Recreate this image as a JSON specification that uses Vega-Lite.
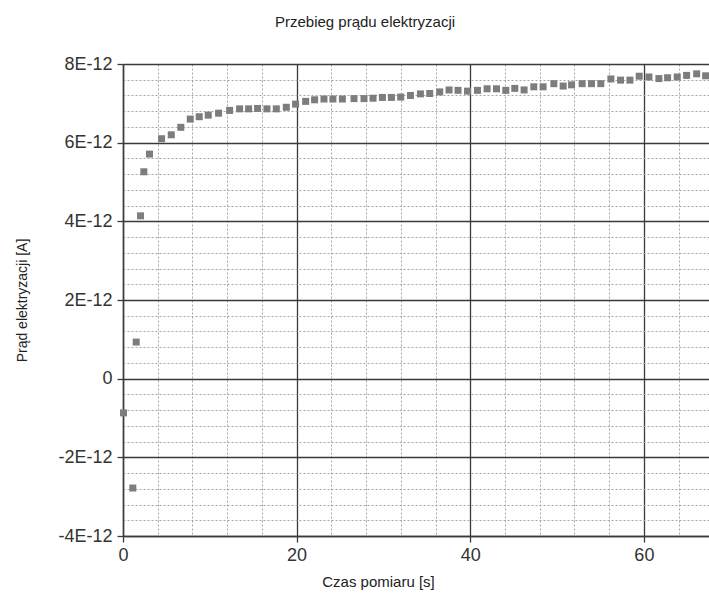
{
  "$schema": "https://vega.github.io/schema/vega-lite/v6.json",
  "width": 586,
  "height": 472,
  "autosize": "none",
  "padding": {"left": 123, "top": 64, "right": 0, "bottom": 62},
  "background": "white",
  "title": {"text": "Przebieg prądu elektryzacji", "font": "Liberation Sans", "fontSize": 15, "fontWeight": "normal", "color": "#222", "anchor": "middle", "dx": -51, "offset": 13, "baseline": "alphabetic"},
  "config": {"view": {"stroke": null}},
  "data": {"values": [
    {"t": 0.06, "i": -0.87e-12},
    {"t": 1.13, "i": -2.78e-12},
    {"t": 1.52, "i": 0.93e-12},
    {"t": 2.02, "i": 4.14e-12},
    {"t": 2.40, "i": 5.26e-12},
    {"t": 3.05, "i": 5.71e-12},
    {"t": 4.44, "i": 6.10e-12},
    {"t": 5.56, "i": 6.20e-12},
    {"t": 6.66, "i": 6.39e-12},
    {"t": 7.75, "i": 6.60e-12},
    {"t": 8.78, "i": 6.66e-12},
    {"t": 9.82, "i": 6.70e-12},
    {"t": 11.01, "i": 6.75e-12},
    {"t": 12.28, "i": 6.82e-12},
    {"t": 13.43, "i": 6.86e-12},
    {"t": 14.47, "i": 6.86e-12},
    {"t": 15.50, "i": 6.87e-12},
    {"t": 16.58, "i": 6.86e-12},
    {"t": 17.66, "i": 6.86e-12},
    {"t": 18.81, "i": 6.90e-12},
    {"t": 19.88, "i": 6.98e-12},
    {"t": 21.04, "i": 7.05e-12},
    {"t": 22.07, "i": 7.09e-12},
    {"t": 23.15, "i": 7.11e-12},
    {"t": 24.18, "i": 7.11e-12},
    {"t": 25.27, "i": 7.11e-12},
    {"t": 26.61, "i": 7.12e-12},
    {"t": 27.76, "i": 7.12e-12},
    {"t": 28.80, "i": 7.13e-12},
    {"t": 29.88, "i": 7.15e-12},
    {"t": 30.92, "i": 7.15e-12},
    {"t": 31.99, "i": 7.16e-12},
    {"t": 33.11, "i": 7.20e-12},
    {"t": 34.26, "i": 7.24e-12},
    {"t": 35.33, "i": 7.25e-12},
    {"t": 36.48, "i": 7.29e-12},
    {"t": 37.56, "i": 7.34e-12},
    {"t": 38.59, "i": 7.33e-12},
    {"t": 39.68, "i": 7.31e-12},
    {"t": 40.83, "i": 7.33e-12},
    {"t": 41.94, "i": 7.37e-12},
    {"t": 43.02, "i": 7.37e-12},
    {"t": 44.09, "i": 7.33e-12},
    {"t": 45.13, "i": 7.38e-12},
    {"t": 46.20, "i": 7.34e-12},
    {"t": 47.32, "i": 7.42e-12},
    {"t": 48.39, "i": 7.42e-12},
    {"t": 49.63, "i": 7.50e-12},
    {"t": 50.70, "i": 7.44e-12},
    {"t": 51.67, "i": 7.47e-12},
    {"t": 52.89, "i": 7.50e-12},
    {"t": 53.97, "i": 7.50e-12},
    {"t": 55.04, "i": 7.50e-12},
    {"t": 56.20, "i": 7.62e-12},
    {"t": 57.31, "i": 7.59e-12},
    {"t": 58.39, "i": 7.59e-12},
    {"t": 59.46, "i": 7.69e-12},
    {"t": 60.58, "i": 7.67e-12},
    {"t": 61.73, "i": 7.63e-12},
    {"t": 62.73, "i": 7.65e-12},
    {"t": 63.84, "i": 7.67e-12},
    {"t": 64.92, "i": 7.71e-12},
    {"t": 66.08, "i": 7.75e-12},
    {"t": 67.11, "i": 7.70e-12}
  ]},
  "mark": {"type": "point", "shape": "square", "filled": true, "size": 49, "color": "#7d7d7d", "opacity": 1, "clip": false},
  "encoding": {
    "x": {
      "field": "t", "type": "quantitative",
      "scale": {"domain": [0, 67.5], "nice": false, "zero": false},
      "axis": {
        "title": "Czas pomiaru [s]",
        "titleFont": "Liberation Sans", "titleFontSize": 15, "titleFontWeight": "normal", "titleColor": "#222",
        "titleX": 255, "titleY": 50, "titleBaseline": "alphabetic", "titleAnchor": "middle", "titleAlign": "center",
        "values": [0, 4, 8, 12, 16, 20, 24, 28, 32, 36, 40, 44, 48, 52, 56, 60, 64],
        "labelExpr": "datum.value % 20 === 0 ? datum.label : ''",
        "labelFont": "Liberation Sans", "labelFontSize": 18, "labelColor": "#333", "labelPadding": 4,
        "labelFlush": false, "labelOverlap": false,
        "grid": true,
        "gridColor": {"condition": {"test": "datum.value % 20 === 0", "value": "#3a3a3a"}, "value": "#a6a6a6"},
        "gridDash": {"condition": {"test": "datum.value % 20 === 0", "value": []}, "value": [2, 2]},
        "gridWidth": {"condition": {"test": "datum.value % 20 === 0", "value": 1.3}, "value": 1},
        "tickOpacity": {"condition": {"test": "datum.value % 20 === 0", "value": 1}, "value": 0},
        "tickColor": "#3a3a3a", "tickSize": 6, "tickWidth": 1.3,
        "domainColor": "#3a3a3a", "domainWidth": 1.5
      }
    },
    "y": {
      "field": "i", "type": "quantitative",
      "scale": {"domain": [-4e-12, 8e-12], "nice": false, "zero": false},
      "axis": {
        "title": "Prąd elektryzacji [A]",
        "titleFont": "Liberation Sans", "titleFontSize": 14, "titleFontWeight": "normal", "titleColor": "#222",
        "titleX": -101, "titleY": 236, "titleAnchor": "middle", "titleAlign": "center", "titleBaseline": "middle", "titleAngle": -90,
        "values": [-4e-12, -3.6e-12, -3.2e-12, -2.8e-12, -2.4e-12, -2e-12, -1.6e-12, -1.2e-12, -0.8e-12, -0.4e-12, 0, 0.4e-12, 0.8e-12, 1.2e-12, 1.6e-12, 2e-12, 2.4e-12, 2.8e-12, 3.2e-12, 3.6e-12, 4e-12, 4.4e-12, 4.8e-12, 5.2e-12, 5.6e-12, 6e-12, 6.4e-12, 6.8e-12, 7.2e-12, 7.6e-12, 8e-12],
        "labelExpr": "abs(datum.value*5e11 - round(datum.value*5e11)) < 0.01 ? (datum.value === 0 ? '0' : round(datum.value*1e12) + 'E-12') : ''",
        "labelFont": "Liberation Sans", "labelFontSize": 18, "labelColor": "#333", "labelPadding": 5,
        "labelFlush": false, "labelOverlap": false,
        "grid": true,
        "gridColor": {"condition": {"test": "abs(datum.value*5e11 - round(datum.value*5e11)) < 0.01", "value": "#3a3a3a"}, "value": "#a6a6a6"},
        "gridDash": {"condition": {"test": "abs(datum.value*5e11 - round(datum.value*5e11)) < 0.01", "value": []}, "value": [2, 2]},
        "gridWidth": {"condition": {"test": "abs(datum.value*5e11 - round(datum.value*5e11)) < 0.01", "value": 1.3}, "value": 1},
        "tickOpacity": {"condition": {"test": "abs(datum.value*5e11 - round(datum.value*5e11)) < 0.01", "value": 1}, "value": 0},
        "tickColor": "#3a3a3a", "tickSize": 6, "tickWidth": 1.3,
        "domainColor": "#3a3a3a", "domainWidth": 1.5
      }
    }
  }
}
